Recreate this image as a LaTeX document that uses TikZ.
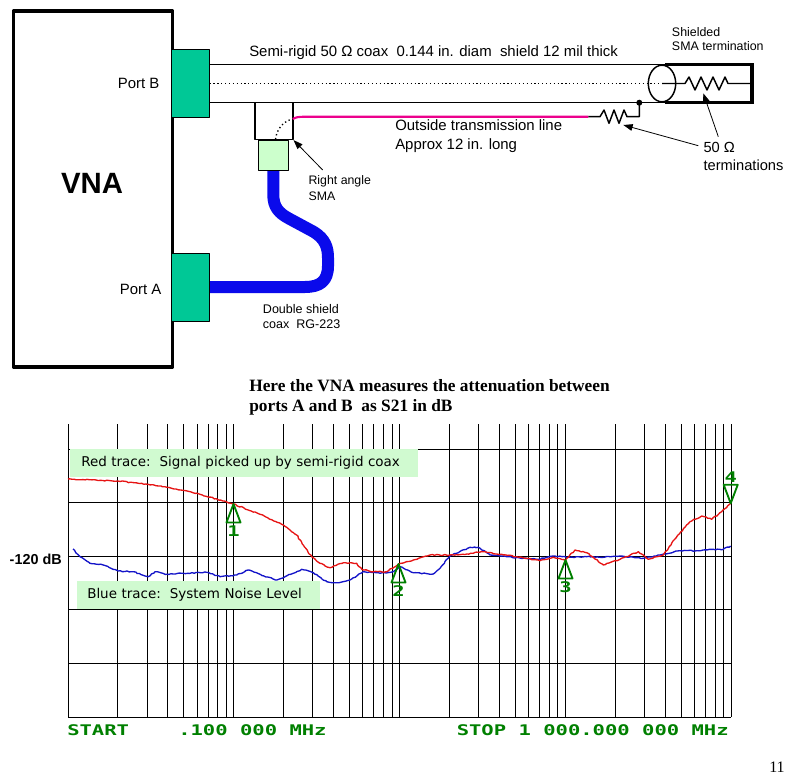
\documentclass[tikz,border=0pt]{standalone}
\usepackage{fontspec}
\setmainfont{Liberation Sans}
\newfontfamily\titlefont{Liberation Serif}
\newfontfamily\notefont{DejaVu Sans}
\newfontfamily\hpfont[FakeStretch=1.4]{DejaVu Sans Mono}
\usetikzlibrary{positioning,arrows.meta,decorations.pathmorphing}
\definecolor{portgreen}{RGB}{0,200,150}
\definecolor{smagreen}{RGB}{204,255,204}
\definecolor{notegreen}{RGB}{208,250,208}
\definecolor{hpgreen}{RGB}{0,128,0}
\definecolor{cableblue}{RGB}{10,10,235}
\definecolor{tracered}{RGB}{230,20,20}
\definecolor{traceblue}{RGB}{20,20,200}
\begin{document}
\begin{tikzpicture}[x=0.75pt, y=-0.75pt, font=\fontsize{11.2}{13}\selectfont, line join=round,
	>={Triangle[length=7pt,width=5pt]},
	box/.style={draw, inner sep=0pt},
	lbl/.style={inner sep=0pt, align=left},
	coax/.style={line width=1.1pt},
	shell/.style={line width=2.4pt, line join=miter},
	cable/.style={cableblue, line width=9pt},
	grid/.style={line width=0.6pt},
	trace/.style={line width=1pt, decorate, decoration={random steps, segment length=1.6pt, amplitude=0.4pt}},
	mkr/.style={draw=hpgreen, line width=1.4pt},
	hp/.style={text=hpgreen, inner sep=0pt, font=\hpfont\bfseries\fontsize{11}{12}\selectfont},
	note/.style={fill=notegreen, inner ysep=0pt, minimum height=21pt, align=left, anchor=north west,
		font=\notefont\fontsize{10.1}{12}\selectfont}]
	\useasboundingbox (0,0) rectangle (798,777);
	\path
	(665,64.3) coordinate (st)
	(665,102.7) coordinate (sb)
	(752,64.3) coordinate (et)
	(752,102.7) coordinate (eb)
	(662,83.5) coordinate (ec)
	(639.3,102.7) coordinate (gnd)
	(639.3,116.7) coordinate (gndl)
	(292.7,119) coordinate (ml)
	(322.7,170) coordinate (raa)
	(698.3,145.7) coordinate (oa1)
	(623.3,125) coordinate (rt1)
	(718.3,136.7) coordinate (oa2)
	(703.3,93.3) coordinate (rt2)
	;
	% VNA and ports
	\node[box, line width=2.5pt, minimum width=119.5pt, minimum height=266.8pt] (vna) at (93,189) {};
	\node[font=\bfseries\fontsize{22}{24}\selectfont] (vnalbl) at (92,183) {VNA};
	\draw[cable] (273.3,170) -- (273.3,195) .. controls (273.3,207) and (279,213) .. (288,218)
	-- (314,232) .. controls (325,239) and (328,247) .. (328,258) -- (328,266)
	.. controls (328,281) and (320,287) .. (305,287) -- (209.3,287);
	\node[box, fill=portgreen, minimum width=28.2pt, minimum height=51pt] (portB) at (190.5,83.3) {};
	\node[box, fill=portgreen, minimum width=28.2pt, minimum height=51pt] (portA) at (190.5,287.2) {};
	\node[lbl, left=8.8pt of portB] (pB) {Port B};
	\node[lbl, left=7.3pt of portA, yshift=-1.5pt] (pA) {Port A};
	% semi-rigid coax
	\draw[coax] (portB.east |- st) -- (st) (portB.east |- sb) -- (sb);
	\draw[dotted, line width=0.9pt] (portB.east |- ec) -- (ec);
	\draw[shell] (st) -- (et) -- (eb) -- (sb);
	\draw[coax] (ec) ellipse (13.7 and 18.3);
	\draw[coax] (ec) -- (685,83.5) -- (689,77) -- (695,90) -- (701,77) -- (707,90) -- (713,77)
	-- (719,90) -- (725,77) -- (728,83.5) -- (et |- ec);
	% right angle SMA
	\node[box, coax, fill=white, minimum width=28.3pt, minimum height=27.5pt] (sma) at (273.9,121) {};
	\node[box, fill=smagreen, minimum width=22.5pt, minimum height=22.5pt, anchor=north] (smag) at (273.3,140) {};
	\draw[dotted, line width=1pt] (275.5,139.3) .. controls (277,128) and (284,121) .. (ml);
	\draw[magenta, line width=1.6pt] (ml) .. controls (297,117) .. (305,116.7) -- (588.3,116.7);
	\draw[coax] (588.3,116.7) -- (600,116.7) -- (604,110) -- (609,123.3) -- (614,110) -- (619,123.3)
	-- (624,110) -- (627,116.7) -- (gndl) -- (gnd);
	\fill (gnd) circle (3);
	% labels
	\node[lbl, anchor=west] (semi) at (249,52.3) {Semi-rigid 50 Ω coax\ \ 0.144 in. diam\ \ shield 12 mil thick};
	\node[lbl, anchor=west, font=\fontsize{9.3}{10.5}\selectfont] (shld) at (671.7,38.7) {Shielded\\SMA termination};
	\node[lbl, anchor=west, font=\fontsize{11.2}{14.2}\selectfont] (outl) at (395,136.2) {Outside transmission line\\Approx 12 in. long};
	\node[lbl, anchor=west, font=\fontsize{11}{13.5}\selectfont] (ohm) at (703.3,156.7) {50 Ω\\terminations};
	\node[lbl, anchor=west, font=\fontsize{9.25}{11.8}\selectfont] (ra) at (308.3,188.2) {Right angle\\SMA};
	\node[lbl, anchor=west, font=\fontsize{9.4}{11}\selectfont] (dbl) at (262.7,316.7) {Double shield\\coax\ \ RG-223};
	\draw[->, line width=0.6pt] (raa) -- (sma.south east);
	\draw[->, line width=0.6pt] (oa1) -- (rt1);
	\draw[->, line width=0.6pt] (oa2) -- (rt2);
	% chart
	\node[lbl, anchor=west, font=\titlefont\bfseries\fontsize{13}{15}\selectfont] (title) at (249,397)
	{Here the VNA measures the attenuation between\\ports A and B\ \ as S21 in dB};
	\foreach \d in {0,...,3}
	\foreach \k in {1,...,9}
	\draw[grid] ({68+165.75*(\d+log10(\k))},424) -- ++(0,293);
	\draw[grid] (731,424) -- (731,717);
	\foreach \i in {0,...,5}
	\draw[grid] (68,{449+53.6*\i}) -- (731,{449+53.6*\i});
	\node[font=\bfseries\fontsize{10.8}{12}\selectfont, anchor=east, inner sep=0pt] (db) at (62,559) {-120 dB};
	\node[note, text width=244.5pt, inner xsep=8.25pt] (rednote) at (70,449) {Red trace:\ \ Signal picked up by semi-rigid coax};
	\node[note, text width=167.25pt, inner xsep=7.5pt] (bluenote) at (77,581) {Blue trace:\ \ System Noise Level};
	\draw[trace, traceblue] plot coordinates {(73,549) (80,556.7) (90,563.3) (103.3,565) (118.3,571)
		(133.3,571.7) (148.3,576.7) (155,571.7) (166.7,574.3) (183.3,573.3) (206.7,572.3) (220,576.7)
		(236.7,575) (248.3,570) (263.3,575.7) (276.7,580) (293.3,573.3) (301.7,569.3) (313.3,572.7)
		(326.7,581.7) (336.7,582.7) (350,580) (363.3,571.7) (380,573.3) (393.3,571.7) (400,566.7)
		(413.3,572.7) (433.3,574) (440,568.3) (450,556) (470,547.3) (478.3,547.3) (490,555)
		(506.7,556.7) (523.3,558.3) (538.3,559.3) (553.3,556) (570,557.3) (586.7,556.7) (600,557.3)
		(620,556) (643.3,558.3) (663.3,554) (680,550.7) (696.7,550.7) (713.3,549.3) (723.3,549.3) (730.7,546)};
	\draw[trace, tracered] plot coordinates {(68,479) (90,479.8) (118,481) (148,484.3) (170,487.7)
		(200,494.3) (233.5,504) (260,514.3) (281.7,524.3) (290,530) (296.7,535) (303.3,545)
		(311.7,556.7) (320,563.3) (330,567.7) (343.3,562.7) (356.7,563.3) (361.7,569.3) (373.3,571.7)
		(386.7,571.7) (398.5,564) (413.3,560) (430,555) (450,555) (466.7,554) (483.3,551.7)
		(496.7,554) (516.7,556.7) (540,560.7) (553.3,557.3) (565.5,560) (575,550) (586.7,552.7)
		(603.3,565) (620,559.3) (638.3,551.7) (648.3,559.3) (663.3,555) (676.7,536.7) (690,521.7)
		(701.7,516) (711.7,519.3) (721.7,511.7) (730.7,503.3)};
	\foreach \n/\x/\y in {1/233.5/504, 2/398.5/564, 3/565.5/560}
	{\draw[mkr] (\x,\y) -- ++(-7,18.5) -- ++(14,0) -- cycle;
		\node[hp] (m\n) at (\x,\y+27) {\n};}
	\draw[mkr] (730.7,503.3) -- ++(-7,-18.5) -- ++(14,0) -- cycle;
	\node[hp] (m4) at (730.7,477) {4};
	\node[hp, anchor=west] (start) at (67,730) {START};
	\node[hp, anchor=west] (fstart) at (178,730) {.100 000 MHz};
	\node[hp, anchor=east] (stop) at (729,730) {STOP 1 000.000 000 MHz};
	\node[font=\titlefont\fontsize{12}{14}\selectfont] (page) at (777,767) {11};
\end{tikzpicture}
\end{document}
